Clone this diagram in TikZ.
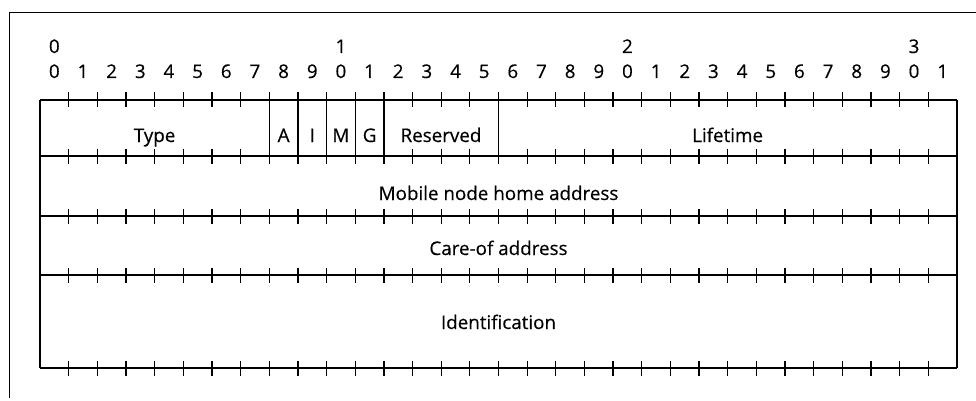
\documentclass[tikz,border=0pt]{standalone}
\usepackage{fontspec}
\setmainfont{Open Sans}[UprightFeatures={FakeBold=0.4}]
\begin{document}
\begin{tikzpicture}[x=1pt,y=-1pt,line width=1.3pt,
    txt/.style={inner sep=0pt,anchor=base,font=\fontsize{18.8}{18.8}\selectfont}]
\useasboundingbox (0,0) rectangle (976,401);
% outer frame (cut off by the page)
\coordinate (frameNW) at (9,13);
\coordinate (frameNE) at (976,13);
\coordinate (frameSW) at (9,398);
\draw[line width=1pt] (frameNE) -- (frameNW) -- (frameSW);
% bit numbers
\foreach \t in {0,1,2,3}
    \node[txt] (ten\t) at ({40+(10*\t+0.5)*28.656},53) {\t};
\foreach \i in {0,...,31}{
    \pgfmathtruncatemacro\u{mod(\i,10)}
    \node[txt] (bit\i) at ({40+(\i+0.5)*28.656},78) {\u};
}
% rows with tick marks
\foreach \yy [count=\r from 0] in {100,156,216,275,368}{
    \coordinate (L\r) at (40,\yy);
    \coordinate (R\r) at (957,\yy);
    \draw (L\r) -- (R\r);
    \foreach \i in {1,...,31}
        \draw ([xshift=\i*28.656pt]L\r) ++(0,-7.5) -- ++(0,15);
}
\draw (L0) -- (L4);
\draw (R0) -- (R4);
% field separators of the first row
\foreach \b in {8,9,10,11,12,16}
    \draw ([xshift=\b*28.656pt]L0) -- ([xshift=\b*28.656pt]L1);
% field names
\node[txt] (type) at (154.6,142) {Type};
\node[txt] (flagA) at (283.6,142) {A};
\node[txt] (flagI) at (312.3,142) {I};
\node[txt] (flagM) at (340.9,142) {M};
\node[txt] (flagG) at (369.6,142) {G};
\node[txt] (reserved) at (441,142) {Reserved};
\node[txt] (lifetime) at (727.6,142) {Lifetime};
\node[txt] (home) at (498.5,200) {Mobile node home address};
\node[txt] (careof) at (498.5,255) {Care-of address};
\node[txt] (ident) at (498.5,329) {Identification};
\end{tikzpicture}
\end{document}
